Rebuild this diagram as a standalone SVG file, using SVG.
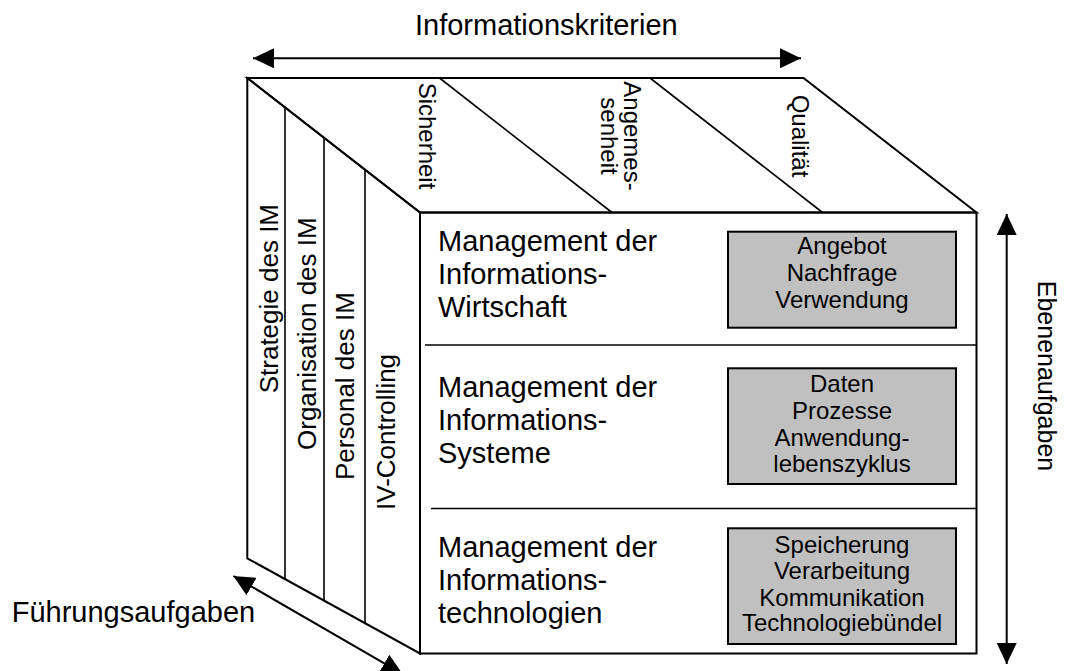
<svg xmlns="http://www.w3.org/2000/svg" width="1068" height="671" viewBox="0 0 1068 671">
<style>
text{font-family:"Liberation Sans",Arial,sans-serif;fill:#000}
.big{font-size:29px}
.main{font-size:29px}
.side{font-size:26px}
.top{font-size:24px}
.box{font-size:24px;text-anchor:middle}
.edge{fill:none;stroke:#000;stroke-width:2;stroke-linejoin:miter}
.div{fill:none;stroke:#000;stroke-width:1.6}
.gbox{fill:#c0c0c0;stroke:#000;stroke-width:2}
.arr{fill:none;stroke:#000;stroke-width:2}
</style>
<defs>
<marker id="ah" viewBox="0 0 21 20" refX="21" refY="10" markerWidth="21" markerHeight="20" markerUnits="userSpaceOnUse" orient="auto-start-reverse">
<path d="M0,0 L21,10 L0,20 z" fill="#000"/>
</marker>
</defs>
<rect width="1068" height="671" fill="#fff"/>

<g id="top-face">
<polygon class="edge" points="247.3,78 803.5,78 976.5,212.5 420,212.5" fill="#fff"/>
<line class="div" x1="439.5" y1="78" x2="612" y2="212.5"/>
<line class="div" x1="650" y1="78" x2="822.5" y2="212.5"/>
<text class="top" transform="translate(418.5,136) rotate(90)" text-anchor="middle">Sicherheit</text>
<text class="top" transform="translate(624,136) rotate(90)" text-anchor="middle">Angemes-</text>
<text class="top" transform="translate(600.5,136) rotate(90)" text-anchor="middle">senheit</text>
<text class="top" transform="translate(791.5,136) rotate(90)" text-anchor="middle">Qualität</text>
</g>

<g id="left-face">
<polygon class="edge" points="247.3,78 420,212.5 420,653.5 247.3,558.3" fill="#fff"/>
<line class="div" x1="285" y1="107.4" x2="285" y2="579.1"/>
<line class="div" x1="324" y1="137.7" x2="324" y2="600.6"/>
<line class="div" x1="365" y1="169.7" x2="365" y2="623.2"/>
<text class="side" transform="translate(278,393.3) rotate(-90)">Strategie des IM</text>
<text class="side" transform="translate(316,450) rotate(-90)">Organisation des IM</text>
<text class="side" transform="translate(353.6,480) rotate(-90)">Personal des IM</text>
<text class="side" transform="translate(394.6,510) rotate(-90)">IV-Controlling</text>
</g>

<g id="front-face">
<rect class="edge" x="420" y="212.5" width="556.5" height="441" fill="#fff"/>
<line class="div" x1="425" y1="345" x2="976" y2="345"/>
<line class="div" x1="431" y1="508.5" x2="976" y2="508.5"/>
</g>

<g id="level-it-economy">
<text class="main" x="438" y="250.5">Management der</text>
<text class="main" x="438" y="283.5">Informations-</text>
<text class="main" x="438" y="316.5">Wirtschaft</text>
<rect class="gbox" x="728" y="231.7" width="228" height="96"/>
<text class="box" x="842" y="254">Angebot</text>
<text class="box" x="842" y="281">Nachfrage</text>
<text class="box" x="842" y="308">Verwendung</text>
</g>

<g id="level-is">
<text class="main" x="438" y="396.7">Management der</text>
<text class="main" x="438" y="429.7">Informations-</text>
<text class="main" x="438" y="462.7">Systeme</text>
<rect class="gbox" x="728" y="368.3" width="228" height="115.7"/>
<text class="box" x="842" y="391.7">Daten</text>
<text class="box" x="842" y="418.5">Prozesse</text>
<text class="box" x="842" y="445.5">Anwendung-</text>
<text class="box" x="842" y="472">lebenszyklus</text>
</g>

<g id="level-it">
<text class="main" x="438" y="556.7">Management der</text>
<text class="main" x="438" y="589.7">Informations-</text>
<text class="main" x="438" y="622.7">technologien</text>
<rect class="gbox" x="728" y="528.3" width="228" height="115.7"/>
<text class="box" x="842" y="552.5">Speicherung</text>
<text class="box" x="842" y="579">Verarbeitung</text>
<text class="box" x="842" y="605.5">Kommunikation</text>
<text class="box" x="842" y="631">Technologiebündel</text>
</g>

<g id="connectors">
<line class="arr" x1="253" y1="58.3" x2="801" y2="58.3" marker-start="url(#ah)" marker-end="url(#ah)"/>
<line class="arr" x1="1006.7" y1="214" x2="1006.7" y2="664" marker-start="url(#ah)" marker-end="url(#ah)"/>
<line class="arr" x1="233.3" y1="576" x2="402.5" y2="673.9" marker-start="url(#ah)" marker-end="url(#ah)"/>
</g>

<g id="axis-labels">
<text class="big" x="415" y="35">Informationskriterien</text>
<text class="big" x="11.7" y="622">Führungsaufgaben</text>
<text transform="translate(1038,376) rotate(90)" text-anchor="middle" style="font-size:25px">Ebenenaufgaben</text>
</g>
</svg>
